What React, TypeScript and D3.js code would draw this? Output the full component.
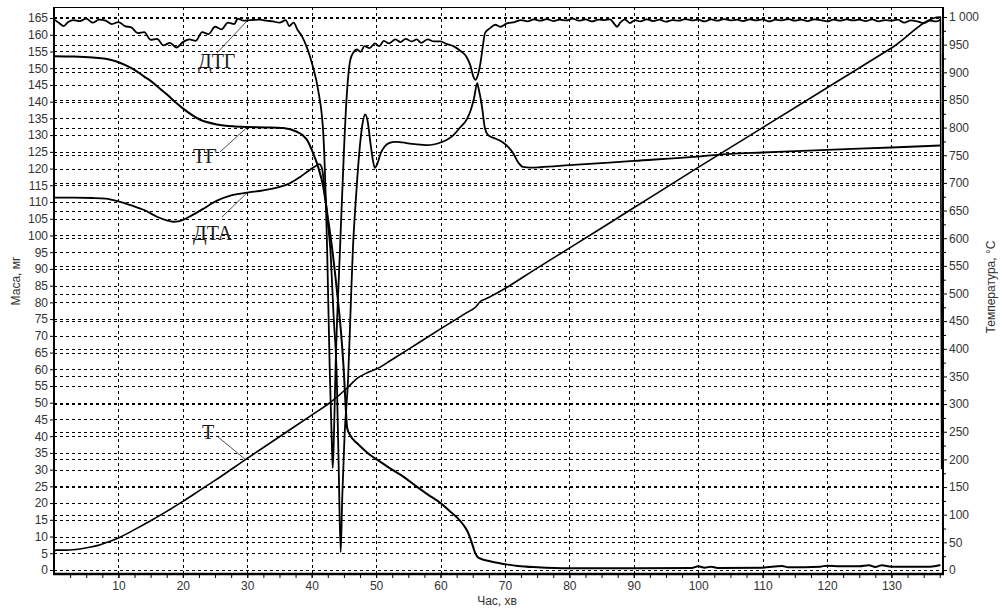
import React, { useEffect, useRef } from 'react';
import * as d3 from 'd3';

const W = 1003;
const H = 608;

// axis ticks
const timeTicks = [10, 20, 30, 40, 50, 60, 70, 80, 90, 100, 110, 120, 130];
const massTicks = [
  0, 5, 10, 15, 20, 25, 30, 35, 40, 45, 50, 55, 60, 65, 70, 75, 80, 85, 90, 95, 100, 105, 110, 115, 120, 125,
  130, 135, 140, 145, 150, 155, 160, 165,
];
const tempTicks = [0, 50, 100, 150, 200, 250, 300, 350, 400, 450, 500, 550, 600, 650, 700, 750, 800, 850, 900, 950, 1000];

// ТГ, mass in mg  [time, value]
const tg: [number, number][] = [
  [0, 153.6], [3, 153.5], [6, 153.2], [8, 152.8], [9.7, 152], [11, 151], [12.5, 149.5], [14, 147.5], [15, 146.2],
  [16.5, 143.8], [17.5, 142.2], [19, 139.6], [20, 138], [22.7, 134.6], [25.3, 133.2], [28, 132.6], [30, 132.4],
  [33, 132.3], [35.6, 132.1], [37.7, 131], [38.6, 130], [39.3, 128.5], [40.2, 124.7], [41, 120.5], [41.8, 114.5],
  [42.5, 105.5], [43.2, 95.7], [44, 82], [44.6, 70], [45, 59], [45.3, 48], [45.5, 42.5], [46, 40.2], [47.1, 37.8],
  [48.5, 35.3], [50.2, 32.9], [52, 30.6], [54, 28.2], [56.4, 24.8], [58, 22.6], [60, 20], [61.5, 17.5],
  [62.5, 15.8], [63.5, 13.6], [64.2, 11.5], [64.8, 8.5], [65.3, 5.5], [65.7, 4], [66.3, 3.3], [67.5, 2.7],
  [69, 2.1], [70.5, 1.6], [72, 1.2], [75, 0.8], [80, 0.5], [90, 0.5], [99, 0.6], [100, 1.1], [101, 0.7],
  [102, 1.0], [103, 0.6], [110, 0.7], [113, 1.2], [114, 0.8], [119, 1.0], [120, 1.3], [122, 1.1], [125, 1.1],
  [126.5, 1.4], [127.5, 0.9], [128.5, 1.4], [130, 1.0], [136, 1.0], [137.6, 1.5],
];

// ДТА, plotted on the mass axis
const dta: [number, number][] = [
  [0, 111.3], [3, 111.3], [6, 111.2], [8, 111], [10, 110.2], [12, 109], [14, 107.6], [16, 105.6], [17.5, 104.5],
  [18.5, 104.1], [19.5, 104.3], [21, 105.6], [23, 107.8], [25.3, 110.4], [27.5, 112], [30, 112.8], [32.5, 113.5],
  [35, 114.5], [36.5, 115.5], [38.2, 117.5], [39.5, 119.3], [40.5, 120.6], [41.2, 121.3], [41.6, 120], [42, 114],
  [42.5, 104], [42.9, 95.7], [43.4, 76], [43.9, 57], [44.2, 30], [44.5, 5.3], [44.75, 22], [45.1, 40], [45.65, 57],
  [46.1, 81], [46.4, 96], [46.9, 112], [47.4, 125], [47.9, 133.5], [48.3, 136.2], [48.7, 134], [49.1, 128],
  [49.5, 122.5], [49.8, 120.2], [50.2, 121.5], [50.7, 124.5], [51.3, 126.5], [52, 127.6], [53, 128], [54, 127.8],
  [56, 127.3], [58, 127], [60, 127.8], [61, 128.6], [62, 130], [63, 132.2], [64.1, 134.8], [64.7, 137.5],
  [65.2, 141], [65.7, 145.5], [65.9, 144], [66.4, 139], [66.9, 132], [67.4, 130], [68.5, 129], [69.7, 127.8],
  [70.5, 126.5], [71.3, 124.5], [72, 122], [72.8, 120.5], [74, 120.3], [75.5, 120.4], [80, 121], [90, 122.3],
  [100, 123.6], [105, 124.4], [110, 124.8], [120, 125.6], [130, 126.3], [137.6, 126.9],
];

// ДТГ, plotted on the mass axis
const dtg: [number, number][] = [
  [0, 164.6], [0.8, 163.5], [1.5, 162.6], [2.2, 163.8], [3, 164.4], [4, 164.1], [5, 164.8], [6, 163.6], [7, 164.5],
  [8, 164.2], [9, 163.2], [10, 163.8], [11, 162.6], [12, 162.2], [13, 160.5], [14, 160.8], [15, 158.5], [16, 158.8],
  [17, 156.8], [18, 157.6], [19, 156.2], [20, 157.8], [21, 158.6], [22, 158.2], [23, 160.8], [24, 160.2],
  [25, 162.4], [26, 161.6], [27, 163.6], [28, 163.2], [28.5, 164.8], [29.5, 164.2], [30.5, 164.4], [32, 164.5],
  [33, 164.2], [34, 164], [35, 163.6], [36, 164.4], [36.5, 162.6], [37.2, 163.6], [37.8, 161.5], [38.5, 159.5],
  [39.3, 156], [40.2, 150.4], [41, 143.5], [41.8, 130.6], [42.4, 95.7], [42.8, 60], [43.1, 40], [43.27, 30.5],
  [43.45, 40], [43.7, 60], [44.4, 96], [45, 125], [45.4, 140.5], [46, 152.5], [46.5, 154.8], [47, 155.6],
  [47.6, 154.9], [48.2, 156.6], [49, 156], [49.8, 157.4], [50.5, 156.6], [51.2, 158.2], [52, 157.4], [53, 158.6],
  [53.8, 157.8], [54.6, 158.8], [55.5, 158], [56.3, 158.6], [57, 157.6], [58, 158.6], [59, 158], [60, 158],
  [61, 157.2], [62, 156.6], [63, 155.3], [64, 153.5], [64.6, 151], [65.1, 147.5], [65.4, 146.5], [65.8, 148],
  [66.2, 151.6], [66.6, 157], [66.9, 160.5], [67.7, 162], [68.5, 163], [69.3, 162.4], [70.3, 163.4], [71.5, 163.8],
  [72.5, 164.4], [73.5, 164], [74.5, 164.6], [75.5, 164.2], [76.5, 164.7], [77.5, 164.1], [78.5, 164.5],
  [79.5, 164.3], [80.5, 164.8], [81.5, 164.2], [82.5, 164.6], [83.5, 164], [84.5, 164.5], [85.5, 164.4],
  [86.3, 164.6], [87, 163.2], [87.4, 162.4], [87.9, 163.6], [88.6, 164.6], [89.4, 163.5], [90.2, 164.4], [91, 164],
  [92, 164.6], [93, 164.1], [94, 164.5], [95, 163.9], [96, 164.4], [97, 164.2], [98, 164.7], [99, 164.3],
  [100, 164.5], [101, 164], [102, 164.6], [103, 164.2], [104, 164.7], [105, 164.3], [106, 164.5], [107, 164.1],
  [108, 164.6], [109, 164.3], [110, 164.6], [111, 164], [112, 164.5], [113, 164.3], [114, 164.7], [115, 164.2],
  [116, 164.5], [117, 164.1], [118, 164.6], [119, 164.4], [120, 164], [121, 164.5], [122, 164.2], [123, 164.6],
  [124, 164.3], [125, 164.5], [126, 164.1], [127, 164.6], [128, 164], [129, 164.4], [130, 164.2], [131, 164.5],
  [132, 163.6], [133, 164.3], [134, 164], [135, 163.5], [136, 164.2], [137, 164], [137.6, 164.5],
];

// Т, temperature in °C on the right axis
const temp: [number, number][] = [
  [0, 33], [0.3, 36], [2, 36], [4, 38], [5.5, 41], [7, 45], [8.5, 51], [10, 58], [12.5, 73], [15, 89],
  [17.5, 106], [20, 124], [22.5, 143], [25, 162], [30, 202], [35, 241], [40, 280], [43, 304], [45.6, 330], [47, 346],
  [48.5, 356], [49.5, 361], [50.5, 366], [52, 377], [55, 399], [60, 436], [64, 465], [65.5, 476], [66.2, 486],
  [67, 490], [68.5, 499], [70, 509], [75, 546], [80, 582], [90, 655], [100, 728], [110, 800], [120, 872],
  [130, 944], [137.6, 1000], [137.8, 182],
];

// curve captions and where their leader lines touch the curves
const captions = [
  { text: 'ДТГ', tx: 198, ty: 68, lx: 217, ly: 53, t: 30, v: 164.2, axis: 'L' },
  { text: 'ТГ', tx: 193, ty: 163, lx: 220, ly: 152, t: 30, v: 132.4, axis: 'L' },
  { text: 'ДТА', tx: 193, ty: 240, lx: 222, ly: 217, t: 30, v: 112.8, axis: 'L' },
  { text: 'Т', tx: 202, ty: 439, lx: 218, ly: 437, t: 29.7, v: 200, axis: 'R' },
];

export default function App() {
  const ref = useRef<SVGSVGElement>(null);

  useEffect(() => {
    const svg = d3.select(ref.current);
    svg.selectAll('*').remove();

    const left = 54, right = 943, top = 7, bottom = 574;
    const x = d3.scaleLinear().domain([0, 138]).range([left, right]);
    const yL = d3.scaleLinear().domain([-1.2, 168.3]).range([bottom, top]);
    const yR = d3.scaleLinear().domain([-7.23, 1018.1]).range([bottom, top]);
    const font = '"Liberation Sans", Arial, sans-serif';

    svg.append('rect').attr('width', W).attr('height', H).attr('fill', '#fff');

    // dashed grid
    const grid = svg.append('g').attr('stroke', '#000').attr('stroke-width', 1).attr('stroke-dasharray', '3,3')
      .attr('shape-rendering', 'crispEdges');
    grid.selectAll('.gx').data(timeTicks).join('line')
      .attr('x1', d => Math.round(x(d)) + 0.5).attr('x2', d => Math.round(x(d)) + 0.5)
      .attr('y1', top).attr('y2', bottom);
    grid.selectAll('.gl').data(massTicks).join('line').attr('class', 'gl')
      .attr('x1', left).attr('x2', right)
      .attr('y1', d => Math.round(yL(d)) + 0.5).attr('y2', d => Math.round(yL(d)) + 0.5);
    grid.selectAll('.gr').data(tempTicks).join('line').attr('class', 'gr')
      .attr('x1', left).attr('x2', right)
      .attr('y1', d => Math.round(yR(d)) + 0.5).attr('y2', d => Math.round(yR(d)) + 0.5);

    // axes
    const styleAxis = (g) => {
      g.select('.domain').remove();
      g.selectAll('line').attr('stroke', '#000');
      g.selectAll('text').attr('fill', '#333').style('font-family', font).style('font-size', '12px');
    };
    svg.append('g').attr('transform', `translate(${left},0)`)
      .call(d3.axisLeft(yL).tickValues(massTicks).tickSize(4).tickPadding(2))
      .call(styleAxis);
    svg.append('g').attr('transform', `translate(${right},0)`)
      .call(d3.axisRight(yR).tickValues(d3.range(25, 1000, 50)).tickSize(3).tickFormat(() => ''))
      .call(styleAxis);
    svg.append('g').attr('transform', `translate(${right},0)`)
      .call(d3.axisRight(yR).tickValues(tempTicks).tickSize(4).tickPadding(2)
        .tickFormat(d => (d === 1000 ? '1 000' : String(d))))
      .call(styleAxis);
    svg.append('g').attr('transform', `translate(0,${bottom})`)
      .call(d3.axisBottom(x).tickValues(d3.range(2.5, 138, 2.5)).tickSize(4).tickFormat(() => ''))
      .call(styleAxis);
    svg.append('g').attr('transform', `translate(0,${bottom})`)
      .call(d3.axisBottom(x).tickValues(timeTicks).tickSize(4).tickPadding(3))
      .call(styleAxis);

    // frame
    svg.append('line').attr('x1', left).attr('x2', right).attr('y1', top + 0.5).attr('y2', top + 0.5)
      .attr('stroke', '#000').attr('stroke-width', 1);
    svg.append('line').attr('x1', left).attr('x2', left).attr('y1', top).attr('y2', bottom + 1)
      .attr('stroke', '#000').attr('stroke-width', 2);
    svg.append('line').attr('x1', right).attr('x2', right).attr('y1', top).attr('y2', bottom + 1)
      .attr('stroke', '#000').attr('stroke-width', 2);
    svg.append('line').attr('x1', left - 1).attr('x2', right + 1).attr('y1', bottom).attr('y2', bottom)
      .attr('stroke', '#000').attr('stroke-width', 2.5);

    // curves
    const lineL = d3.line<[number, number]>().x(d => x(d[0])).y(d => yL(d[1])).curve(d3.curveMonotoneX);
    const lineR = d3.line<[number, number]>().x(d => x(d[0])).y(d => yR(d[1])).curve(d3.curveMonotoneX);
    const curves = svg.append('g').attr('fill', 'none').attr('stroke', '#000').attr('stroke-linejoin', 'round');
    curves.append('path').datum(temp).attr('d', lineR).attr('stroke-width', 1.6);
    curves.append('path').datum(dta).attr('d', lineL).attr('stroke-width', 1.8);
    curves.append('path').datum(tg).attr('d', lineL).attr('stroke-width', 2);
    curves.append('path').datum(dtg).attr('d', lineL).attr('stroke-width', 1.8);

    // captions with leader lines
    const cap = svg.append('g');
    captions.forEach(c => {
      const ex = x(c.t);
      const ey = c.axis === 'L' ? yL(c.v) : yR(c.v);
      cap.append('line').attr('x1', c.lx).attr('y1', c.ly).attr('x2', ex).attr('y2', ey)
        .attr('stroke', '#222').attr('stroke-width', 0.8);
      cap.append('text').attr('x', c.tx).attr('y', c.ty).text(c.text)
        .style('font-family', '"Liberation Serif", "Times New Roman", serif').style('font-size', '20px')
        .attr('fill', '#1a1a1a');
    });

    // axis titles
    svg.append('text').attr('transform', 'translate(20,281) rotate(-90)').attr('text-anchor', 'middle')
      .style('font-family', font).style('font-size', '12px').attr('fill', '#333').text('Маса, мг');
    svg.append('text').attr('transform', 'translate(995,287) rotate(-90)').attr('text-anchor', 'middle')
      .style('font-family', font).style('font-size', '12px').attr('fill', '#333').text('Температура, °С');
    svg.append('text').attr('x', 497).attr('y', 605).attr('text-anchor', 'middle')
      .style('font-family', font).style('font-size', '12px').attr('fill', '#333').text('Час, хв');
  }, []);

  return (
    <svg ref={ref} width={W} height={H} style={{ position: 'absolute', left: 0, top: 0, display: 'block' }} />
  );
}
